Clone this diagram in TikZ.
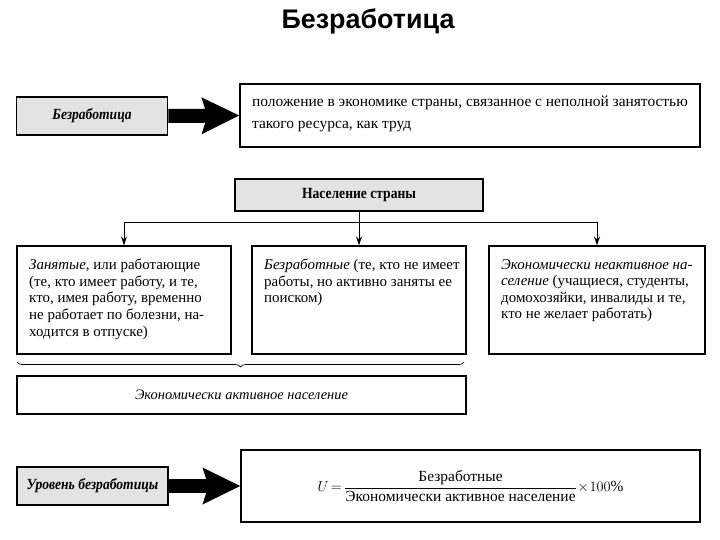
\documentclass[tikz,border=0pt]{standalone}
\usepackage{fontspec}
\setmainfont{Liberation Serif}
\newfontfamily\titlefont{Liberation Sans}
\newfontfamily\tagfont[FakeStretch=0.88]{Liberation Serif}
\usetikzlibrary{arrows.meta,decorations.pathreplacing}

\tikzset{
	frame/.style={draw, line width=1.1bp, inner sep=0pt},
	tag/.style={draw, line width=1.6bp, fill=black!11, inner sep=0pt,
		minimum width=151bp, minimum height=38bp,
		font=\tagfont\fontsize{15.5}{17}\selectfont\bfseries\itshape},
	paneltext/.style={anchor=north west, align=left, inner sep=0pt,
		font=\fontsize{15}{16.6}\selectfont},
	bigarrow/.style={line width=14bp, -{Stealth[length=37bp, width=35bp, inset=5bp]}},
	fork/.style={line width=0.8bp, -{Stealth[length=9bp, width=6bp]}}
}

\begin{document}
\begin{tikzpicture}[x=1bp, y=-1bp]
	\useasboundingbox (0,0) rectangle (720,540);

	\node (title) at (368,21) {\titlefont\bfseries\fontsize{27}{30}\selectfont Безработица};

	\node[tag] (bez) at (92,116) {Безработица};
	\node[frame, minimum width=460bp, minimum height=63bp] (def) at (470,115.5) {};
	\node[paneltext, font=\fontsize{15.5}{22}\selectfont] (deftext) at (252,96)
		{положение в экономике страны, связанное с неполной занятостью\\
		такого ресурса, как труд};
	\draw[bigarrow] (bez.east) -- (def.west);

	\node[frame, line width=1.6bp, fill=black!11, minimum width=248bp, minimum height=32bp,
		font=\tagfont\fontsize{15.5}{17}\selectfont\bfseries] (pop) at (359,195) {Население страны};

	\node[frame, minimum width=214bp, minimum height=108bp] (empl) at (124,300) {};
	\node[frame, minimum width=214bp, minimum height=108bp] (unemp) at (359,300) {};
	\node[frame, minimum width=216bp, minimum height=108bp] (inact) at (597,300) {};

	\node[paneltext] (empltext) at (29,259)
		{\textit{Занятые}, или работающие\\
		(те, кто имеет работу, и те,\\
		кто, имея работу, временно\\
		не работает по болезни, на-\\
		ходится в отпуске)};
	\node[paneltext] (unemptext) at (264,259)
		{\textit{Безработные} (те, кто не имеет\\
		работы, но активно заняты ее\\
		поиском)};
	\node[paneltext] (inacttext) at (501,259)
		{\textit{Экономически неактивное на-}\\
		\textit{селение} (учащиеся, студенты,\\
		домохозяйки, инвалиды и те,\\
		кто не желает работать)};

	\coordinate (split) at (359,222);
	\draw[line width=0.8bp] (pop.south) -- (split);
	\draw[fork] (split) -| (empl.north);
	\draw[fork] (split) -- (unemp.north);
	\draw[fork] (split) -| (inact.north);

	\coordinate (braceL) at (17,362);
	\coordinate (braceR) at (464,362);
	\draw[line width=0.7bp, decorate, decoration={brace, mirror, amplitude=5bp}] (braceL) -- (braceR);

	\node[frame, minimum width=449bp, minimum height=38bp,
		font=\fontsize{14.5}{16}\selectfont\itshape] (active) at (241.5,395) {Экономически активное население};

	\node[tag] (level) at (92.5,486) {Уровень безработицы};
	\node[frame, minimum width=459bp, minimum height=72bp] (rate) at (470.5,486) {};
	\node (formula) at (rate.center) {\fontsize{15.5}{18}\selectfont
		$U\mkern-2mu=\mkern-2mu\displaystyle\frac{\mbox{Безработные}}{\mbox{Экономически активное население}}\mkern-3mu\times\mkern-3mu100\%$};
	\draw[bigarrow] (level.east) -- (rate.west);

\end{tikzpicture}
\end{document}
